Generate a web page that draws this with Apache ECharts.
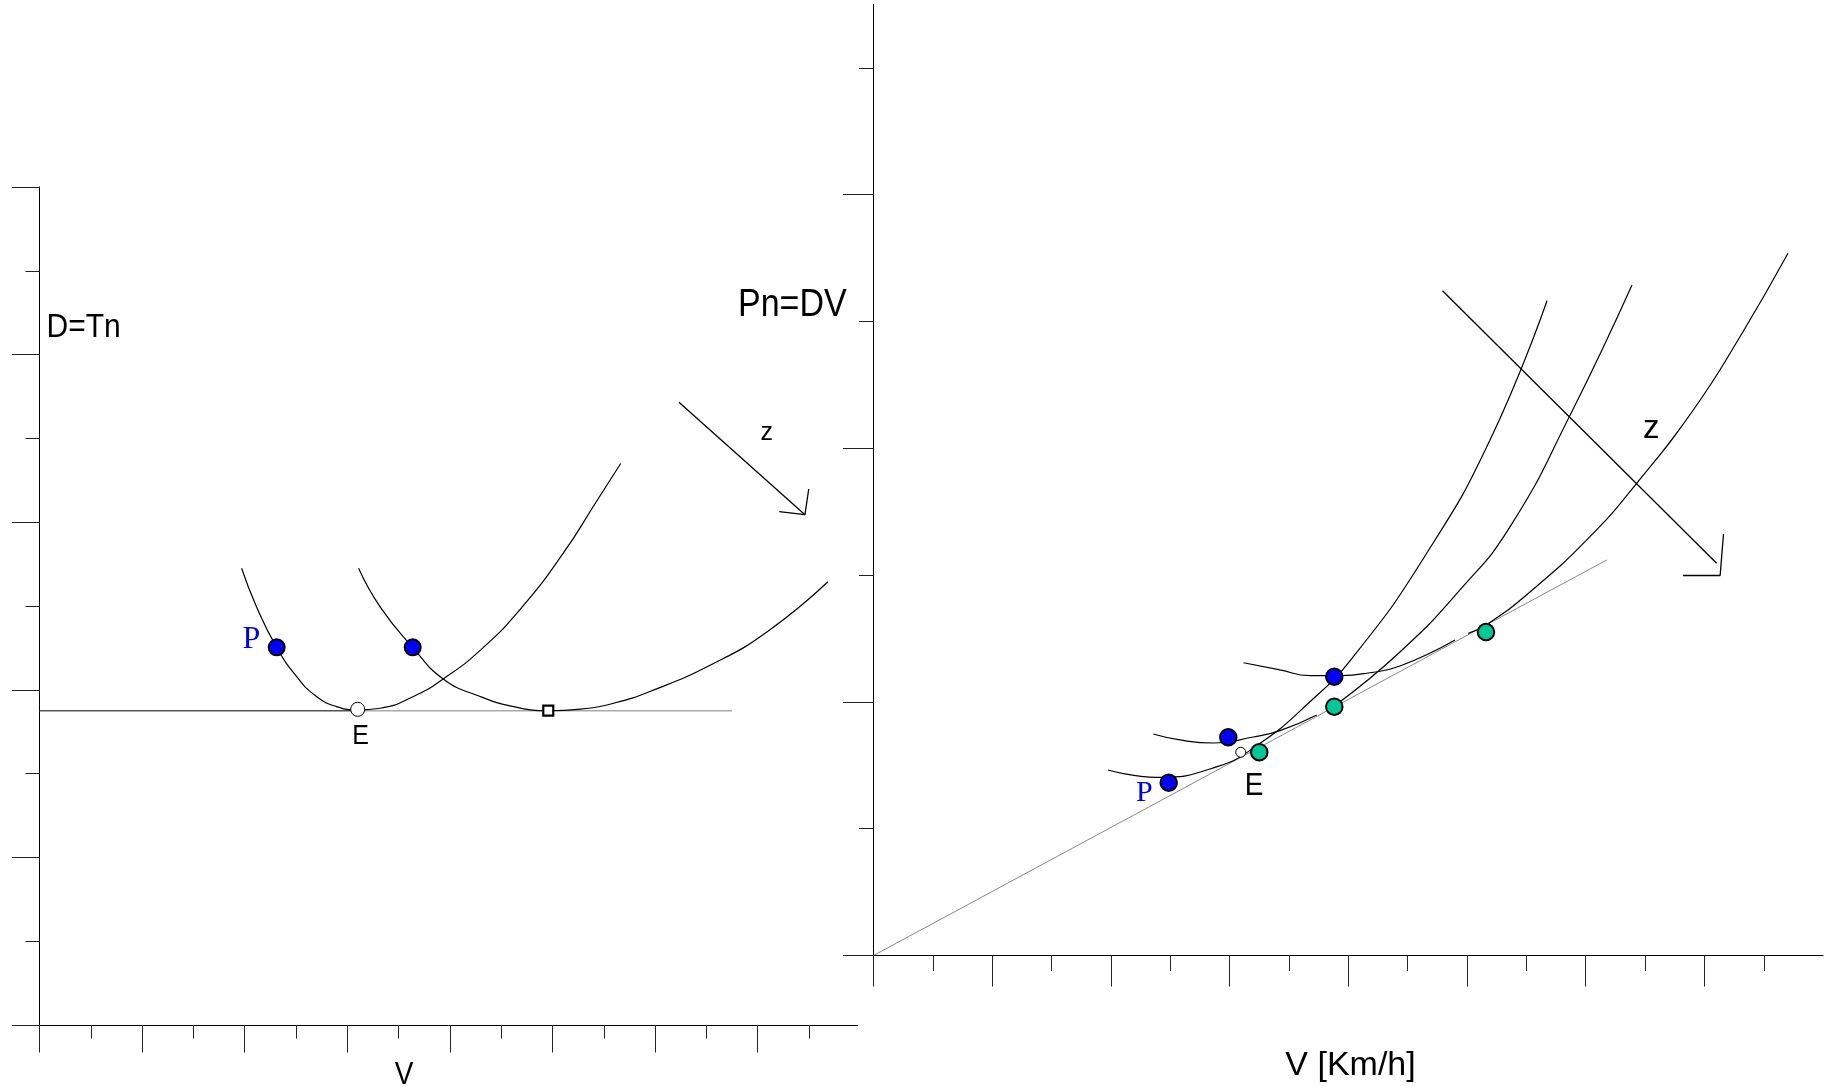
<!DOCTYPE html>
<html>
<head>
<meta charset="utf-8">
<script src="https://cdn.jsdelivr.net/npm/echarts@6/dist/echarts.min.js"></script>
<style>
html,body{margin:0;padding:0;background:#fff;}
#main{width:1831px;height:1087px;}
</style>
</head>
<body>
<div id="main"></div>
<script>
// tick positions (no labels on the original)
var tickMajorX = [0, 2, 4, 6, 8, 10, 12, 14];
var tickMinorX = [1, 3, 5, 7, 9, 11, 13, 15];
var dragTickMajorY = [0, 2, 4, 6, 8, 10];
var dragTickMinorY = [1, 3, 5, 7, 9];
var powerTickMajorY = [0, 2, 4, 6];
var powerTickMinorY = [1, 3, 5, 7];

// left chart: D=Tn vs V
var dragCurve1 = [[3.94,5.45],[4.23,4.99],[4.62,4.51],[5.01,4.16],[5.40,3.92],[5.79,3.80],[6.20,3.76],[6.64,3.78],[7.29,3.92],[7.87,4.13],[8.59,4.47],[9.37,4.96],[10.21,5.63],[10.86,6.25],[11.33,6.70]];
var dragCurve2 = [[6.22,5.45],[6.64,4.99],[7.27,4.51],[7.87,4.13],[8.59,3.92],[9.24,3.80],[9.92,3.75],[10.55,3.77],[11.19,3.84],[11.90,3.98],[13.13,4.31],[14.20,4.70],[15.37,5.29]];
var dragMinLineDark = [[0,3.75],[6.2,3.75]];
var dragMinLineLight = [[6.2,3.75],[13.5,3.75]];
var dragPowerPts = [[4.624,4.507],[7.275,4.507]];
var dragMinE = [[6.203,3.767]];
var dragMin2 = [[9.918,3.751]];
var dragArrow = [[12.466,7.431],[14.922,6.09]];
var dragArrowHead = [[14.421,6.125],[14.922,6.09],[14.995,6.396]];

// right chart: Pn=DV vs V [Km/h]
var powerCurve1 = [[3.951,1.463],[4.777,1.405],[5.788,1.489],[6.496,1.668],[7.304,1.979],[8.079,2.354],[9.292,3.151],[10.388,4.066],[11.348,5.164]];
var powerCurve2Low = [[4.714,1.747],[5.164,1.700],[5.725,1.676],[6.399,1.723],[6.849,1.773],[7.468,1.897]];
var powerCurve2High = [[7.776,1.972],[8.871,2.394],[9.882,2.883],[10.724,3.380],[11.724,4.249],[12.780,5.288]];
var powerCurve3Low = [[6.234,2.309],[6.849,2.252],[7.355,2.208],[7.860,2.208],[8.310,2.226],[8.871,2.283],[9.798,2.488]];
var powerCurve3High = [[10.022,2.541],[10.320,2.606],[11.061,2.867],[12.072,3.303],[12.859,3.724],[13.813,4.302],[14.600,4.880],[15.409,5.538]];
var powerTangent = [[0,0],[12.354,3.119]];
var powerMinPts = [[4.974,1.363],[5.978,1.721],[7.764,2.199]];
var powerDragPts = [[6.500,1.603],[7.764,1.962],[10.320,2.551]];
var powerOpenPt = [[6.187,1.603]];
var powerArrow = [[9.587,5.243],[14.206,3.093]];
var powerArrowHead = [[13.638,2.997],[14.265,2.997],[14.322,3.324]];

var chart = echarts.init(document.getElementById('main'));

function axis(grid, pos, max, ticks, len, showLine) {
    return {
        type: 'value', gridIndex: grid, position: pos, min: 0, max: max,
        axisLine: {show: showLine, onZero: false, lineStyle: {color: '#000', width: 1}},
        axisTick: {show: true, customValues: ticks, length: len, lineStyle: {color: '#222', width: 1}},
        axisLabel: {show: false},
        splitLine: {show: false}
    };
}

function line(data, ax, color, width, smooth) {
    return {
        type: 'line', xAxisIndex: ax, yAxisIndex: ax, data: data,
        smooth: smooth, symbol: 'none', silent: true, z: 2,
        lineStyle: {color: color, width: width}
    };
}

function dots(data, ax, symbol, size, fill, border, bw) {
    return {
        type: 'scatter', xAxisIndex: ax, yAxisIndex: ax, data: data,
        symbol: symbol, symbolSize: size, silent: true, z: 5,
        itemStyle: {color: fill, borderColor: border, borderWidth: bw, opacity: 1}
    };
}

function txt(text, x, y, size, sy, color, family, align) {
    return {
        type: 'text', x: x, y: y, scaleY: sy, silent: true, z: 10,
        style: {
            text: text, fill: color || '#000',
            font: size + 'px ' + (family || '"Liberation Sans", Arial, sans-serif'),
            align: align || 'center', verticalAlign: 'middle'
        }
    };
}

var sans = '"Liberation Sans", Arial, sans-serif';
var serif = '"Liberation Serif", "Times New Roman", serif';

var option = {
    animation: false,
    backgroundColor: '#fff',
    grid: [
        {left: 39.5, top: 187, width: 818.2, height: 838},
        {left: 873.5, top: 4.5, width: 949.6, height: 951}
    ],
    xAxis: [
        axis(0, 'bottom', 15.95, tickMajorX, 27.5, true),
        axis(0, 'bottom', 15.95, tickMinorX, 13.5, false),
        axis(1, 'bottom', 16, tickMajorX, 31, true),
        axis(1, 'bottom', 16, tickMinorX, 15.5, false)
    ],
    yAxis: [
        axis(0, 'left', 10, dragTickMajorY, 27.5, true),
        axis(0, 'left', 10, dragTickMinorY, 14, false),
        axis(1, 'left', 7.5, powerTickMajorY, 30.5, true),
        axis(1, 'left', 7.5, powerTickMinorY, 14.5, false)
    ],
    series: [
        line(dragMinLineDark, 0, '#555', 1.5, false),
        line(dragMinLineLight, 0, '#aaa', 1.5, false),
        line(dragCurve1, 0, '#000', 1.2, 0.5),
        line(dragCurve2, 0, '#000', 1.2, 0.5),
        line(dragArrow, 0, '#000', 1.3, false),
        line(dragArrowHead, 0, '#000', 1.3, false),
        dots(dragPowerPts, 0, 'circle', 16, '#0000ff', '#000', 2),
        dots(dragMinE, 0, 'circle', 14, '#fff', '#000', 1),
        dots(dragMin2, 0, 'rect', 10, '#fff', '#000', 2.2),

        line(powerTangent, 2, '#888', 1, false),
        line(powerCurve1, 2, '#000', 1.2, 0.5),
        line(powerCurve2Low, 2, '#000', 1.2, 0.5),
        line(powerCurve2High, 2, '#000', 1.2, 0.5),
        line(powerCurve3Low, 2, '#000', 1.2, 0.5),
        line(powerCurve3High, 2, '#000', 1.2, 0.5),
        line(powerArrow, 2, '#000', 1.3, false),
        line(powerArrowHead, 2, '#000', 1.3, false),
        dots(powerMinPts, 2, 'circle', 16.5, '#0000ff', '#000', 2),
        dots(powerDragPts, 2, 'circle', 16.5, '#00c997', '#000', 2),
        dots(powerOpenPt, 2, 'circle', 10, '#fff', '#000', 1)
    ],
    graphic: [
        txt('D=Tn', 46.6, 328, 30, 1.1, '#000', sans, 'left'),
        txt('Pn=DV', 738, 305, 34, 1.15, '#000', sans, 'left'),
        txt('z', 766.7, 433, 25, 1, '#000', sans),
        txt('z', 1651.3, 429, 33, 1, '#000', sans),
        txt('V', 404, 1075, 28, 1.15, '#000', sans),
        txt('V [Km/h]', 1350.5, 1066, 34, 1, '#000', sans),
        txt('E', 360.5, 736, 25, 1.12, '#000', sans),
        txt('E', 1254, 786.5, 28, 1.1, '#000', sans),
        txt('P', 251.3, 640, 32, 1, '#0000e6', serif),
        txt('P', 1144.3, 793, 30, 1, '#0000e6', serif)
    ]
};

chart.setOption(option);
</script>
</body>
</html>
